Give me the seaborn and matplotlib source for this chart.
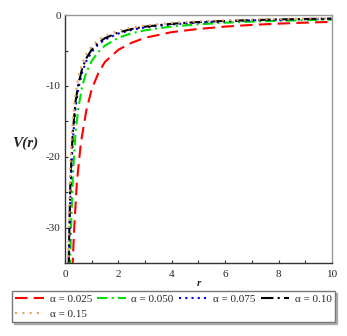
import matplotlib
matplotlib.use("Agg")
from matplotlib import pyplot as plt
import pandas as pd
import seaborn as sns

# values
R_RED = [0.28, 0.35, 0.45, 0.6, 0.8, 1.0, 1.25, 1.5, 2.0, 2.5, 3.0, 4.0, 5.0, 6.0, 7.0, 8.0, 9.0, 10.0]
V_RED = [-36, -30, -23.5, -18, -13.5, -10.5, -8.2, -6.6, -4.9, -3.9, -3.2, -2.4, -1.95, -1.62, -1.38, -1.2, -1.06, -0.95]

R_GREEN = [0.19, 0.23, 0.3, 0.4, 0.5, 0.65, 0.8, 1.0, 1.25, 1.5, 2.0, 2.5, 3.0, 4.0, 5.0, 6.0, 7.0, 8.0, 9.0, 10.0]
V_GREEN = [-36, -30, -22.5, -16.5, -13.2, -10, -8.1, -6.5, -5.2, -4.3, -3.2, -2.55, -2.15, -1.6, -1.3, -1.07, -0.92, -0.8, -0.71, -0.64]

R_BLUE = [0.15, 0.2, 0.25, 0.3, 0.4, 0.5, 0.65, 0.8, 1.0, 1.25, 1.5, 2.0, 2.5, 3.0, 4.0, 5.0, 6.0, 7.0, 8.0, 9.0, 10.0]
V_BLUE = [-35.5, -26, -21, -17.4, -13, -10.4, -8, -6.5, -5.2, -4.15, -3.45, -2.6, -2.08, -1.73, -1.3, -1.04, -0.87, -0.74, -0.65, -0.58, -0.52]

R_BLACK = [0.14, 0.2, 0.25, 0.3, 0.4, 0.5, 0.65, 0.8, 1.0, 1.25, 1.5, 2.0, 2.5, 3.0, 4.0, 5.0, 6.0, 7.0, 8.0, 9.0, 10.0]
V_BLACK = [-35, -24.5, -19.6, -16.3, -12.2, -9.8, -7.5, -6.1, -4.9, -3.9, -3.25, -2.45, -1.96, -1.63, -1.22, -0.98, -0.82, -0.7, -0.61, -0.54, -0.49]

R_ORANGE = [0.125, 0.16, 0.2, 0.25, 0.3, 0.4, 0.5, 0.65, 0.8, 1.0, 1.25, 1.5, 2.0, 2.5, 3.0, 4.0, 5.0, 6.0, 7.0, 8.0, 9.0, 10.0]
V_ORANGE = [-35.2, -27.5, -22, -17.6, -14.7, -11, -8.8, -6.8, -5.5, -4.4, -3.5, -2.93, -2.2, -1.76, -1.47, -1.1, -0.88, -0.73, -0.63, -0.55, -0.49, -0.44]

LABELS = ["α = 0.025", "α = 0.050", "α = 0.075", "α = 0.10", "α = 0.15"]

series = [
    (R_RED, V_RED, LABELS[0], "#ff0000", (0, (6, 3))),
    (R_GREEN, V_GREEN, LABELS[1], "#00e000", (0, (5, 2, 1, 2))),
    (R_BLUE, V_BLUE, LABELS[2], "#0000ff", (0, (1, 2))),
    (R_BLACK, V_BLACK, LABELS[3], "#000000", (0, (6, 2, 1, 2))),
    (R_ORANGE, V_ORANGE, LABELS[4], "#e8a060", (0, (1, 2.5))),
]

sns.set_theme(style="white")
plt.rcParams["font.family"] = ["Liberation Serif", "DejaVu Serif"]
plt.rcParams["axes.unicode_minus"] = False

fig = plt.figure(figsize=(3.47, 3.36), dpi=100)
ax = fig.add_axes([0.187, 0.217, 0.77, 0.738])

for r, v, lab, col, ls in series:
    df = pd.DataFrame({"r": r, "V": v})
    sns.lineplot(data=df, x="r", y="V", ax=ax, color=col, linestyle=ls,
                 linewidth=1.5, label=lab, sort=False)

ax.set_xlim(0, 10)
ax.set_ylim(-35, 0)
ax.set_xticks([0, 2, 4, 6, 8, 10])
ax.set_xticks([1, 3, 5, 7, 9], minor=True)
ax.set_yticks([0, -10, -20, -30])
ax.set_yticks([-5, -15, -25], minor=True)
ax.tick_params(axis="both", which="both", direction="in", labelsize=8,
               length=2.5, width=0.8, color="#333333",
               bottom=True, left=True)
ax.tick_params(axis="x", pad=5)
ax.tick_params(axis="y", pad=3)
for side in ["left", "bottom"]:
    ax.spines[side].set_color("#333333")
    ax.spines[side].set_linewidth(1.0)
for side in ["right", "top"]:
    ax.spines[side].set_color("#999999")
    ax.spines[side].set_linewidth(1.0)

ax.set_xlabel("r", fontsize=8, fontweight="bold", fontstyle="italic", labelpad=0)
ax.set_ylabel("V(r)", fontsize=11, fontweight="bold", fontstyle="italic",
              rotation=0, ha="center", va="center")
ax.yaxis.set_label_coords(-0.15, 0.485)

handles, labels = ax.get_legend_handles_labels()
order = [0, 4, 1, 2, 3]
ax.legend([handles[i] for i in order], [labels[i] for i in order],
          ncol=4, loc="upper left", bbox_to_anchor=(-0.198, -0.113),
          fontsize=8, frameon=True, fancybox=False, edgecolor="#777777",
          shadow={"ox": 1.2, "oy": -1.2, "color": "#888888", "alpha": 0.6},
          handlelength=2.6, handletextpad=0.5, columnspacing=0.45,
          borderpad=0.3, labelspacing=0.45, borderaxespad=0)

fig.savefig("out.png", dpi=100)
